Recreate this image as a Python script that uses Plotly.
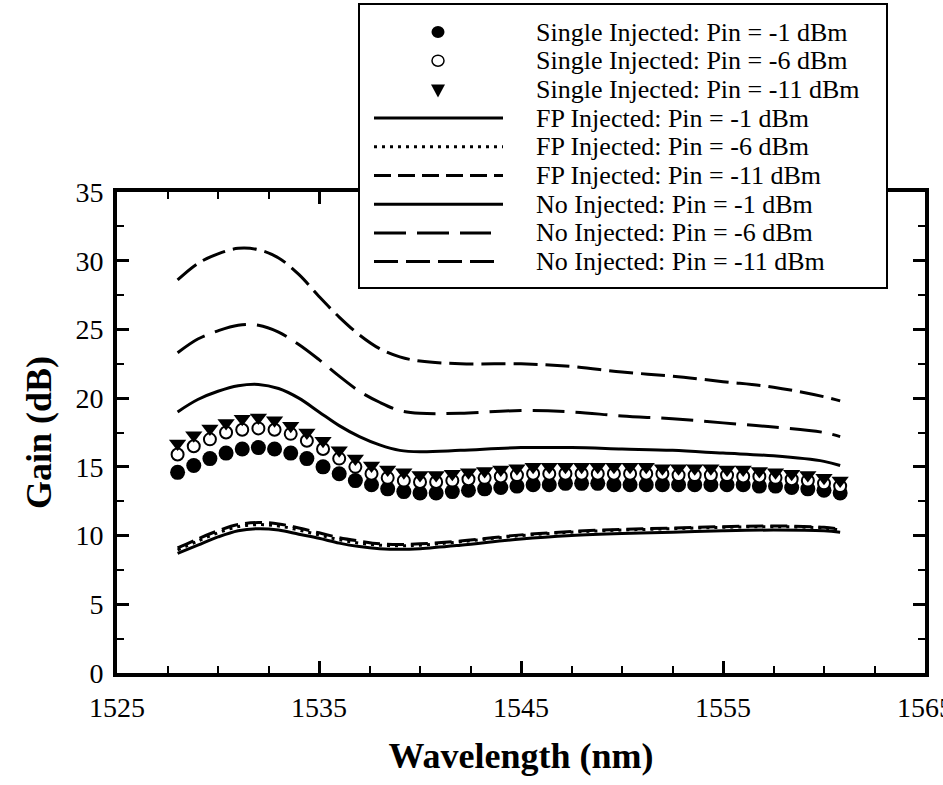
import plotly.graph_objects as go

# ---------------- data ----------------
marker_wl = [1528.0, 1528.8, 1529.6, 1530.4, 1531.2, 1532.0, 1532.8, 1533.6, 1534.4, 1535.2,
             1536.0, 1536.8, 1537.6, 1538.4, 1539.2, 1540.0, 1540.8, 1541.6, 1542.4, 1543.2,
             1544.0, 1544.8, 1545.6, 1546.4, 1547.2, 1548.0, 1548.8, 1549.6, 1550.4, 1551.2,
             1552.0, 1552.8, 1553.6, 1554.4, 1555.2, 1556.0, 1556.8, 1557.6, 1558.4, 1559.2,
             1560.0, 1560.8]
single_m1 = [14.6, 15.1, 15.6, 16.0, 16.3, 16.4, 16.3, 16.0, 15.6, 15.0,
             14.5, 14.0, 13.7, 13.4, 13.2, 13.1, 13.1, 13.2, 13.3, 13.4,
             13.5, 13.6, 13.7, 13.7, 13.8, 13.8, 13.8, 13.7, 13.7, 13.7,
             13.7, 13.7, 13.7, 13.7, 13.7, 13.7, 13.6, 13.6, 13.5, 13.4,
             13.3, 13.1]
single_m6 = [15.9, 16.5, 17.0, 17.5, 17.7, 17.8, 17.7, 17.4, 16.9, 16.3,
             15.6, 15.0, 14.5, 14.2, 14.0, 13.9, 13.9, 14.0, 14.1, 14.2,
             14.3, 14.4, 14.5, 14.5, 14.5, 14.5, 14.5, 14.5, 14.5, 14.5,
             14.5, 14.4, 14.4, 14.4, 14.4, 14.3, 14.3, 14.2, 14.1, 14.0,
             13.8, 13.6]
single_m11 = [16.7, 17.3, 17.8, 18.2, 18.5, 18.6, 18.4, 18.0, 17.5, 16.9,
              16.2, 15.6, 15.1, 14.8, 14.6, 14.4, 14.4, 14.5, 14.6, 14.7,
              14.8, 14.9, 15.0, 15.0, 15.0, 15.0, 15.0, 15.0, 15.0, 15.0,
              14.9, 14.9, 14.9, 14.9, 14.8, 14.8, 14.7, 14.6, 14.5, 14.4,
              14.2, 14.0]

curve_wl = [1528, 1529, 1530, 1531, 1532, 1533, 1534, 1535, 1536, 1537, 1538, 1539, 1540,
            1542, 1545, 1547.5, 1550, 1552.5, 1555, 1557.5, 1560, 1560.8]
fp_m1 = [8.7, 9.3, 9.9, 10.35, 10.5, 10.4, 10.1, 9.8, 9.45, 9.2, 9.05, 9.0, 9.05,
         9.3, 9.75, 10.0, 10.15, 10.25, 10.35, 10.4, 10.35, 10.25]
fp_m6 = [8.95, 9.6, 10.2, 10.65, 10.8, 10.7, 10.4, 10.05, 9.7, 9.45, 9.3, 9.25, 9.3,
         9.55, 10.0, 10.25, 10.4, 10.5, 10.6, 10.65, 10.55, 10.4]
fp_m11 = [9.1, 9.75, 10.35, 10.8, 10.95, 10.85, 10.55, 10.2, 9.85, 9.6, 9.4, 9.35, 9.4,
          9.6, 10.05, 10.3, 10.45, 10.55, 10.65, 10.7, 10.6, 10.45]
no_m1 = [19.0, 19.9, 20.5, 20.9, 21.0, 20.7, 20.0, 19.0, 18.0, 17.2, 16.6, 16.2, 16.1,
         16.2, 16.4, 16.4, 16.3, 16.2, 16.0, 15.8, 15.4, 15.1]
no_m6 = [23.3, 24.3, 24.9, 25.3, 25.3, 24.8, 23.9, 22.8, 21.6, 20.5, 19.7, 19.1, 18.9,
         18.9, 19.1, 19.0, 18.7, 18.5, 18.2, 17.9, 17.5, 17.2]
no_m11 = [28.6, 29.8, 30.5, 30.9, 30.8, 30.2, 29.0, 27.4, 25.9, 24.6, 23.6, 23.0, 22.7,
          22.5, 22.5, 22.3, 21.9, 21.6, 21.2, 20.8, 20.1, 19.8]

x_ticks = [1525, 1535, 1545, 1555, 1565]
y_ticks = [0, 5, 10, 15, 20, 25, 30, 35]

legend_labels = [
    "Single Injected: Pin = -1 dBm",
    "Single Injected: Pin = -6 dBm",
    "Single Injected: Pin = -11 dBm",
    "FP Injected: Pin = -1 dBm",
    "FP Injected: Pin = -6 dBm",
    "FP Injected: Pin = -11 dBm",
    "No Injected: Pin = -1 dBm",
    "No Injected: Pin = -6 dBm",
    "No Injected: Pin = -11 dBm",
]

# ---------------- styles ----------------
FONT = "Liberation Serif"
W, H = 943, 785
ML, MR, MT, MB = 117, 18, 192, 112
LW = 3
dash_fp6 = "3px,5px"
dash_fp11 = "17px,7px"
dash_no6 = "32px,11px"
dash_no11 = "24px,8px"

fig = go.Figure()

def add_line(y, dash, name):
    fig.add_trace(go.Scatter(x=curve_wl, y=y, mode="lines", name=name, showlegend=False,
                             line=dict(color="black", width=LW, dash=dash, shape="spline", smoothing=1)))

add_line(no_m11, dash_no11, legend_labels[8])
add_line(no_m6, dash_no6, legend_labels[7])
add_line(no_m1, "solid", legend_labels[6])
add_line(fp_m1, "solid", legend_labels[3])
add_line(fp_m6, dash_fp6, legend_labels[4])
add_line(fp_m11, dash_fp11, legend_labels[5])

fig.add_trace(go.Scatter(x=marker_wl, y=single_m1, mode="markers", name=legend_labels[0], showlegend=False,
                         marker=dict(symbol="circle", size=15, color="black", line=dict(width=0))))
fig.add_trace(go.Scatter(x=marker_wl, y=single_m6, mode="markers", name=legend_labels[1], showlegend=False,
                         marker=dict(symbol="circle", size=12, color="white", line=dict(width=2, color="black"))))
fig.add_trace(go.Scatter(x=marker_wl, y=single_m11, mode="markers", name=legend_labels[2], showlegend=False,
                         marker=dict(symbol="triangle-down", size=15, color="black", line=dict(width=0))))

# ---------------- custom legend ----------------
PW = W - ML - MR
PH = H - MT - MB

def px_x(px):
    return (px - ML) / PW

def px_y(py):
    return (H - MB - py) / PH

shapes = []
shapes.append(dict(type="rect", xref="paper", yref="paper", layer="above",
                   x0=px_x(359), x1=px_x(887), y0=px_y(288), y1=px_y(4),
                   fillcolor="white", line=dict(color="black", width=2)))
row_top, row_gap = 32, 28.7
sym_x, line_x0, text_x = 438, 374, 534
line_styles = [None, None, None, "solid", dash_fp6, dash_fp11, "solid", dash_no6, dash_no11]
line_ends = [None, None, None, 503, 503, 503, 503, 491, 496]
for i, lab in enumerate(legend_labels):
    yy = px_y(row_top + i * row_gap)
    if i == 0:
        shapes.append(dict(type="circle", xref="paper", yref="paper", layer="above",
                           xsizemode="pixel", ysizemode="pixel", xanchor=px_x(sym_x), yanchor=yy,
                           x0=-6.5, x1=6.5, y0=-6, y1=6, fillcolor="black", line=dict(width=0)))
    elif i == 1:
        shapes.append(dict(type="circle", xref="paper", yref="paper", layer="above",
                           xsizemode="pixel", ysizemode="pixel", xanchor=px_x(sym_x), yanchor=yy,
                           x0=-6, x1=6, y0=-5.5, y1=5.5, fillcolor="white", line=dict(width=1.5, color="black")))
    elif i == 2:
        shapes.append(dict(type="path", xref="paper", yref="paper", layer="above",
                           xsizemode="pixel", ysizemode="pixel", xanchor=px_x(sym_x), yanchor=yy,
                           path="M-7,5 L7,5 L0,-8 Z", fillcolor="black", line=dict(width=0)))
    else:
        shapes.append(dict(type="line", xref="paper", yref="paper", layer="above",
                           x0=px_x(line_x0), x1=px_x(line_ends[i]), y0=yy, y1=yy,
                           line=dict(color="black", width=LW, dash=line_styles[i])))

annotations = []
for i, lab in enumerate(legend_labels):
    annotations.append(dict(text=lab, xref="paper", yref="paper", x=px_x(text_x),
                            y=px_y(row_top + i * row_gap), xanchor="left", yanchor="middle",
                            showarrow=False, font=dict(family=FONT, size=26, color="black")))

axis_common = dict(showline=True, linewidth=4, linecolor="black", mirror="ticks",
                   ticks="inside", ticklen=12, tickwidth=3, tickcolor="black",
                   showgrid=False, zeroline=False,
                   tickfont=dict(family=FONT, size=28, color="black"))

fig.update_layout(
    width=W, height=H,
    margin=dict(l=ML, r=MR, t=MT, b=MB, autoexpand=False),
    paper_bgcolor="white", plot_bgcolor="white",
    showlegend=False,
    xaxis=dict(range=[1525, 1565], tickmode="array", tickvals=x_ticks,
               ticktext=[str(v) for v in x_ticks], ticklabeloverflow="allow",
               ticklabelstandoff=6,
               minor=dict(dtick=2.5, tick0=1525, ticks="inside", ticklen=7, tickwidth=2, tickcolor="black"),
               title=dict(text="Wavelength (nm)", standoff=22,
                          font=dict(family=FONT, size=36, color="black", weight="bold")),
               automargin=False, **axis_common),
    yaxis=dict(range=[0, 35], tickmode="array", tickvals=y_ticks,
               ticklabelstandoff=4,
               minor=dict(dtick=2.5, tick0=0, ticks="inside", ticklen=7, tickwidth=2, tickcolor="black"),
               title=dict(text="Gain (dB)", standoff=14,
                          font=dict(family=FONT, size=36, color="black", weight="bold")),
               automargin=False, **axis_common),
    shapes=shapes,
    annotations=annotations,
)

fig.write_html("out.html")
